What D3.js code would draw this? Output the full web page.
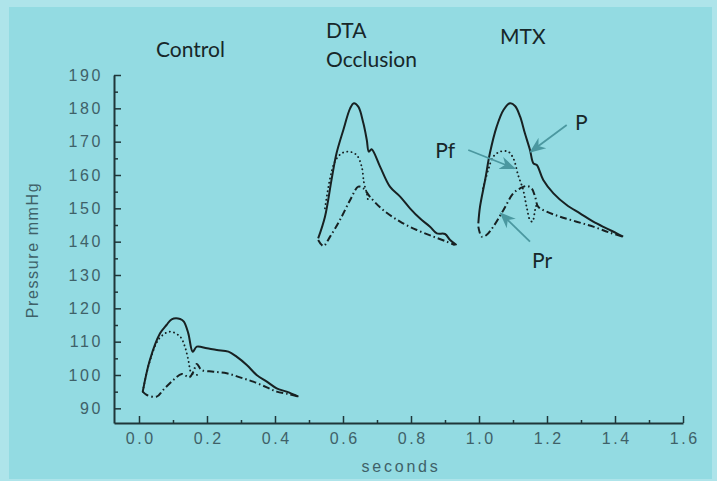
<!DOCTYPE html>
<html>
<head>
<meta charset="utf-8">
<script src="https://cdn.jsdelivr.net/npm/d3@7"></script>
<style>
  body { margin: 0; background: #aee4ea; }
  svg { display: block; }
</style>
</head>
<body>
<svg id="chart"></svg>
<script>
// tick values
const xTicks = [0, 0.2, 0.4, 0.6, 0.8, 1.0, 1.2, 1.4, 1.6];
const xMinor = [0.1, 0.3, 0.5, 0.7, 0.9, 1.1, 1.3, 1.5];
const yTicks = [90, 100, 110, 120, 130, 140, 150, 160, 170, 180, 190];
const yMinor = [95, 105, 115, 125, 135, 145, 155, 165, 175, 185];

// [seconds, mmHg]
const controlP = [[0.011, 95], [0.032, 104.5], [0.062, 112.5], [0.081, 115], [0.096, 116.7], [0.121, 116.8],
  [0.132, 116], [0.145, 112.5], [0.158, 107], [0.17, 108.5], [0.2, 108], [0.229, 107.5], [0.263, 107],
  [0.287, 105.5], [0.317, 103], [0.346, 100], [0.376, 98], [0.405, 96], [0.434, 95], [0.469, 93.5]];
const controlPf = [[0.011, 95], [0.03, 103.5], [0.06, 111], [0.091, 113], [0.121, 111.5], [0.135, 108.5],
  [0.145, 104.5], [0.155, 100.5], [0.175, 100]];
const controlPr = [[0.011, 95], [0.023, 94], [0.052, 93.5], [0.071, 95.5], [0.101, 98.5], [0.126, 100.3],
  [0.148, 99.3], [0.16, 101], [0.17, 103.3], [0.184, 101.5], [0.219, 101], [0.258, 100.5], [0.297, 99.3],
  [0.336, 98], [0.376, 96.3], [0.405, 95], [0.44, 94.3], [0.469, 93.5]];

const dtaP = [[0.527, 141], [0.547, 147.5], [0.567, 159], [0.581, 166.5], [0.601, 173.5], [0.621, 180],
  [0.632, 181.5], [0.645, 180.5], [0.66, 175.5], [0.67, 170.5], [0.676, 167], [0.684, 167.7], [0.709, 162.5],
  [0.738, 156.5], [0.768, 153.5], [0.797, 150], [0.826, 147], [0.856, 144.5], [0.876, 142.5], [0.9, 142.3],
  [0.915, 140.5], [0.934, 139]];
const dtaPf = [[0.547, 150], [0.562, 159], [0.576, 164], [0.596, 166.5], [0.618, 167], [0.64, 166],
  [0.655, 162.5], [0.662, 157.5], [0.67, 154.5], [0.674, 152]];
const dtaPr = [[0.527, 140.5], [0.542, 138.7], [0.562, 141.5], [0.591, 146.5], [0.621, 152.5], [0.645, 156.5],
  [0.66, 156], [0.679, 153.5], [0.718, 149.5], [0.768, 146], [0.817, 143.5], [0.866, 141.5], [0.905, 140],
  [0.929, 139]];

const mtxP = [[0.998, 145.5], [1.003, 150.5], [1.018, 158.5], [1.032, 166.5], [1.052, 174.5], [1.072, 179.5],
  [1.091, 181.5], [1.106, 180.7], [1.121, 177.5], [1.135, 172.5], [1.15, 167.5], [1.16, 163.5], [1.17, 163],
  [1.189, 158.5], [1.219, 154.5], [1.258, 151], [1.297, 148.5], [1.336, 146], [1.375, 144], [1.405, 142.5],
  [1.424, 141.5]];
const mtxPf = [[1.012, 156], [1.027, 161.5], [1.042, 165.5], [1.062, 167], [1.086, 167], [1.101, 165],
  [1.115, 160], [1.13, 155.5], [1.14, 150.5], [1.15, 146.5], [1.157, 146], [1.165, 149.5], [1.17, 151.5]];
const mtxPr = [[0.998, 144.5], [1.008, 141.5], [1.022, 142], [1.042, 144.5], [1.072, 149.5], [1.101, 154.5],
  [1.121, 156], [1.14, 156.7], [1.155, 156], [1.165, 153.5], [1.174, 150.5], [1.199, 149], [1.238, 147.5],
  [1.287, 146], [1.336, 144.5], [1.385, 142.7], [1.424, 141.5]];

// group titles and trace labels, placed in data units
const titles = [
  { text: "Control", t: 0.05, p: 195.4 },
  { text: "DTA", t: 0.55, p: 201.1 },
  { text: "Occlusion", t: 0.55, p: 192.4 },
  { text: "MTX", t: 1.062, p: 199.3 }
];
const traceLabels = [
  { text: "P", t: 1.282, p: 173.5 },
  { text: "Pf", t: 0.871, p: 165 },
  { text: "Pr", t: 1.156, p: 132 }
];
const arrows = [
  { from: [1.258, 175], to: [1.152, 167] },
  { from: [0.9685, 167.5], to: [1.104, 162] },
  { from: [1.15, 140], to: [1.064, 148.5] }
];

const width = 717, height = 481;
const svg = d3.select("#chart").attr("width", width).attr("height", height);

svg.append("rect").attr("x", 9).attr("y", 7).attr("width", 703).attr("height", 472)
  .attr("fill", "#93dbe2");

const xScale = d3.scaleLinear().domain([-0.0735, 1.6]).range([114, 683]);
const yScale = d3.scaleLinear().domain([85.6, 190]).range([423, 75]);

const axisColor = "#1f3639";
const labelColor = "#3f6168";
const axisFont = "'Liberation Sans', Arial, sans-serif";

function styleAxis(g) {
  g.select(".domain").attr("stroke", axisColor).attr("stroke-width", 2);
  g.selectAll(".tick line").attr("stroke", axisColor).attr("stroke-width", 1.5);
  g.selectAll("text")
    .attr("fill", labelColor)
    .style("font-family", axisFont)
    .style("font-size", "16px")
    .style("letter-spacing", "2.6px");
}

// minor ticks first, then the main axes on top
svg.append("g").attr("transform", "translate(0,423)")
  .call(d3.axisBottom(xScale).tickValues(xMinor).tickSizeInner(-3).tickSizeOuter(0).tickFormat(""))
  .call(g => { g.select(".domain").remove(); g.selectAll("line").attr("stroke", axisColor).attr("stroke-width", 1.5); });
svg.append("g").attr("transform", "translate(114,0)")
  .call(d3.axisLeft(yScale).tickValues(yMinor).tickSizeInner(-4).tickSizeOuter(0).tickFormat(""))
  .call(g => { g.select(".domain").remove(); g.selectAll("line").attr("stroke", axisColor).attr("stroke-width", 1.5); });

svg.append("g").attr("transform", "translate(0,423)")
  .call(d3.axisBottom(xScale).tickValues(xTicks).tickSizeInner(-7).tickSizeOuter(0)
    .tickPadding(10).tickFormat(d3.format(".1f")))
  .call(styleAxis)
  .call(g => g.selectAll("text").attr("dx", "1.3px"));

svg.append("g").attr("transform", "translate(114,0)")
  .call(d3.axisLeft(yScale).tickValues(yTicks).tickSizeInner(-7).tickSizeOuter(0).tickPadding(11))
  .call(styleAxis);

svg.append("text")
  .attr("x", 401).attr("y", 472)
  .attr("text-anchor", "middle")
  .attr("fill", labelColor)
  .style("font-family", axisFont)
  .style("font-size", "16px")
  .style("letter-spacing", "2.8px")
  .text("seconds");

svg.append("text")
  .attr("transform", "translate(38,250) rotate(-90)")
  .attr("text-anchor", "middle")
  .attr("fill", labelColor)
  .style("font-family", axisFont)
  .style("font-size", "16px")
  .style("letter-spacing", "1.6px")
  .text("Pressure mmHg");

// traces
const line = d3.line()
  .x(d => xScale(d[0]))
  .y(d => yScale(d[1]))
  .curve(d3.curveCatmullRom.alpha(0.5));

const traceColor = "#182122";
const traces = [
  { data: controlPr, kind: "Pr" }, { data: controlPf, kind: "Pf" }, { data: controlP, kind: "P" },
  { data: dtaPr, kind: "Pr" }, { data: dtaPf, kind: "Pf" }, { data: dtaP, kind: "P" },
  { data: mtxPr, kind: "Pr" }, { data: mtxPf, kind: "Pf" }, { data: mtxP, kind: "P" }
];

svg.append("g").selectAll("path")
  .data(traces)
  .join("path")
  .attr("d", d => line(d.data))
  .attr("fill", "none")
  .attr("stroke", traceColor)
  .attr("stroke-width", d => d.kind === "Pf" ? 1.9 : 2)
  .attr("stroke-linecap", d => d.kind === "Pf" ? "round" : "butt")
  .attr("stroke-linejoin", "round")
  .attr("stroke-dasharray", d => d.kind === "P" ? null : d.kind === "Pf" ? "0.1,4.2" : "7,3,1.5,3");

// titles
const titleFont = "Lato, 'Open Sans', sans-serif";
svg.append("g").selectAll("text")
  .data(titles)
  .join("text")
  .attr("x", d => xScale(d.t))
  .attr("y", d => yScale(d.p))
  .attr("fill", "#172729")
  .style("font-family", titleFont)
  .style("font-size", "21px")
  .text(d => d.text);

// arrows to the MTX traces
const arrowColor = "#4b98a0";
svg.append("defs").append("marker")
  .attr("id", "head")
  .attr("viewBox", "0 0 10 10")
  .attr("refX", 9).attr("refY", 5)
  .attr("markerWidth", 9).attr("markerHeight", 9)
  .attr("orient", "auto")
  .append("path")
  .attr("d", "M0,1 L10,5 L0,9 L3,5 Z")
  .attr("fill", arrowColor);

svg.append("g").selectAll("line")
  .data(arrows)
  .join("line")
  .attr("x1", d => xScale(d.from[0])).attr("y1", d => yScale(d.from[1]))
  .attr("x2", d => xScale(d.to[0])).attr("y2", d => yScale(d.to[1]))
  .attr("stroke", arrowColor)
  .attr("stroke-width", 1.8)
  .attr("marker-end", "url(#head)");

svg.append("g").selectAll("text")
  .data(traceLabels)
  .join("text")
  .attr("x", d => xScale(d.t))
  .attr("y", d => yScale(d.p))
  .attr("fill", "#172729")
  .style("font-family", titleFont)
  .style("font-size", "21px")
  .text(d => d.text);
</script>
</body>
</html>
